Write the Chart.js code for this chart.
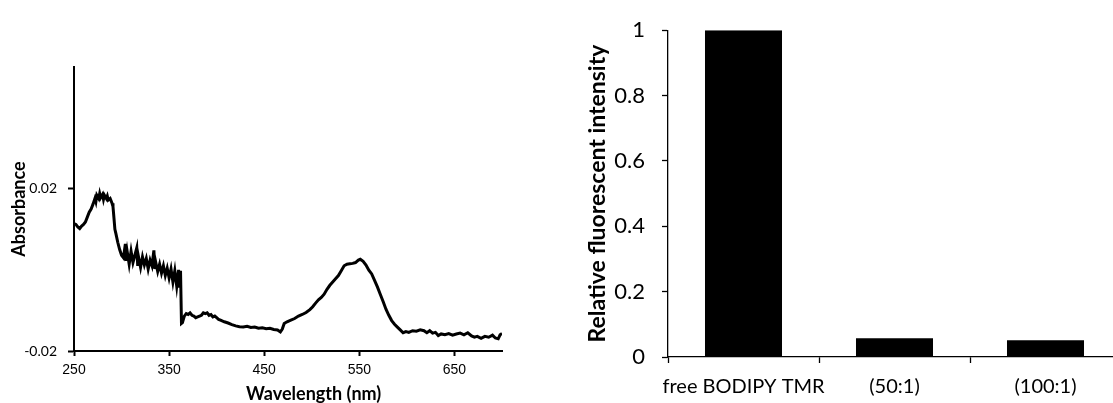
<!DOCTYPE html>
<html>
<head>
<meta charset="utf-8">
<script src="https://cdn.jsdelivr.net/npm/chart.js@4.4.1/dist/chart.umd.min.js"></script>
<style>
  body { margin: 0; background: #fff; }
  #wrap { position: relative; width: 1113px; height: 403px; background: #fff; overflow: hidden; }
  #left { position: absolute; left: 0; top: 0; width: 520px; height: 403px; }
  #right { position: absolute; left: 520px; top: 0; width: 593px; height: 403px; overflow: hidden; }
</style>
</head>
<body>
<div id="wrap">
  <div id="left"><canvas id="absChart" width="520" height="403"></canvas></div>
  <div id="right"><canvas id="barChart" width="602" height="403"></canvas></div>
</div>
<script>
// absorbance spectrum
var wavelength = [
  250, 252, 254, 256, 258, 260, 262, 264, 266, 268, 270, 272, 273, 274, 276, 277, 278, 280, 281, 282,
  284, 285, 286, 288, 290, 291, 292, 293, 294, 296, 298, 300, 302, 304, 305, 306, 308, 310, 312, 314,
  316, 317, 318, 320, 322, 324, 326, 328, 330, 332, 334, 335, 336, 338, 340, 342, 344, 346, 348, 350,
  352, 354, 356, 358, 360, 361, 362, 363, 364, 366, 368, 370, 372, 374, 376, 378, 380, 382, 384, 386,
  388, 390, 392, 394, 396, 398, 400, 402, 404, 408, 412, 416, 420, 424, 428, 432, 436, 440, 444, 448,
  452, 456, 460, 464, 467, 469, 471, 474, 478, 482, 486, 490, 494, 498, 501, 504, 507, 510, 513, 516,
  519, 522, 525, 528, 531, 534, 537, 540, 543, 546, 549, 551, 554, 557, 560, 563, 566, 569, 572, 575,
  578, 581, 584, 587, 590, 593, 596, 599, 602, 606, 610, 614, 618, 621, 624, 627, 630, 633, 636, 640,
  644, 648, 652, 656, 660, 664, 668, 671, 674, 678, 682, 686, 690, 693, 696, 698, 700
];
var absorbance = [
  0.0114, 0.0112, 0.0106, 0.0102, 0.0108, 0.0112, 0.0118, 0.0130, 0.0142, 0.0150, 0.0162, 0.0176, 0.0168, 0.0184, 0.0176, 0.0188, 0.0178, 0.0186, 0.0174, 0.0184,
  0.0176, 0.0182, 0.0172, 0.0176, 0.0164, 0.0156, 0.0128, 0.0100, 0.0090, 0.0068, 0.0050, 0.0036, 0.0030, 0.0064, 0.0022, 0.0044, 0.0014, 0.0046, 0.0018, 0.0036,
  0.0054, 0.0010, 0.0030, 0.0006, 0.0032, 0.0012, 0.0028, 0.0002, 0.0024, 0.0010, 0.0048, 0.0002, 0.0018, -0.0004, 0.0014, -0.0008, 0.0010, -0.0014, 0.0004, -0.0020,
  0.0002, -0.0030, -0.0002, -0.0040, 0.0000, -0.0044, -0.0002, -0.0132, -0.0130, -0.0114, -0.0108, -0.0110, -0.0106, -0.0112, -0.0114, -0.0118, -0.0116, -0.0114, -0.0112, -0.0106,
  -0.0108, -0.0106, -0.0112, -0.0110, -0.0116, -0.0114, -0.0118, -0.0122, -0.0124, -0.0128, -0.0131, -0.0135, -0.0138, -0.0140, -0.0141, -0.0139, -0.0142, -0.0141, -0.0144, -0.0143,
  -0.0145, -0.0144, -0.0147, -0.0148, -0.0153, -0.0146, -0.0132, -0.0128, -0.0124, -0.0120, -0.0114, -0.0110, -0.0105, -0.0098, -0.0091, -0.0082, -0.0074, -0.0068, -0.0060, -0.0048,
  -0.0038, -0.0030, -0.0022, -0.0014, -0.0002, 0.0010, 0.0014, 0.0015, 0.0016, 0.0018, 0.0024, 0.0026, 0.0021, 0.0012, -0.0001, -0.0010, -0.0026, -0.0042, -0.0060, -0.0078,
  -0.0097, -0.0112, -0.0125, -0.0134, -0.0141, -0.0148, -0.0155, -0.0152, -0.0154, -0.0150, -0.0151, -0.0148, -0.0150, -0.0155, -0.0150, -0.0156, -0.0154, -0.0162, -0.0158, -0.0160,
  -0.0157, -0.0161, -0.0158, -0.0156, -0.0160, -0.0155, -0.0163, -0.0166, -0.0164, -0.0169, -0.0164, -0.0166, -0.0161, -0.0168, -0.0170, -0.0160, -0.0157
];
var wavelengthTicks = [250, 350, 450, 550, 650];
var absorbanceTicks = [-0.02, 0.02];

// fluorescence bars
var sampleLabels = ['free BODIPY TMR', '(50:1)', '(100:1)'];
var intensity = [1, 0.057, 0.051];

var spectrumPoints = [];
for (var i = 0; i < wavelength.length; i++) {
    spectrumPoints.push({x: wavelength[i], y: absorbance[i]});
}

// bottom title of the spectrum sits a bit right of centre
var wavelengthTitle = {
    id: 'wavelengthTitle',
    afterDraw: function (chart) {
        var a = chart.chartArea;
        var ctx = chart.ctx;
        ctx.save();
        ctx.fillStyle = '#000';
        ctx.font = 'bold 18px Lato';
        ctx.textAlign = 'center';
        ctx.textBaseline = 'middle';
        ctx.fillText('Wavelength (nm)', a.left + (a.right - a.left) * 0.56, a.bottom + 43);
        ctx.restore();
    }
};

new Chart(document.getElementById('absChart'), {
    type: 'line',
    data: {
        datasets: [{
            data: spectrumPoints,
            borderColor: '#000',
            borderWidth: 3,
            pointRadius: 0,
            tension: 0,
            fill: false
        }]
    },
    plugins: [wavelengthTitle],
    options: {
        responsive: false,
        animation: false,
        layout: { padding: { top: 67, right: 18, left: 0, bottom: 0 } },
        plugins: { legend: { display: false }, tooltip: { enabled: false } },
        scales: {
            x: {
                type: 'linear',
                min: 250,
                max: 700,
                afterBuildTicks: function (s) { s.ticks = wavelengthTicks.map(function (v) { return {value: v}; }); },
                afterFit: function (s) { s.height = 52; },
                grid: { drawOnChartArea: false, tickLength: 5, tickColor: '#000', tickWidth: 2 },
                border: { color: '#000', width: 2 },
                ticks: { color: '#000', font: { family: 'Liberation Sans', size: 14 }, padding: 6, maxRotation: 0 }
            },
            y: {
                min: -0.02,
                max: 0.05,
                afterBuildTicks: function (s) { s.ticks = absorbanceTicks.map(function (v) { return {value: v}; }); },
                afterFit: function (s) { s.width = 74; },
                grid: { drawOnChartArea: false, tickLength: 6, tickColor: '#000', tickWidth: 2 },
                border: { color: '#000', width: 2 },
                ticks: {
                    color: '#000',
                    font: { family: 'Lato', size: 14 },
                    padding: 11,
                    callback: function (v) { return v.toFixed(2); }
                },
                title: {
                    display: true,
                    text: 'Absorbance',
                    color: '#000',
                    font: { family: 'Lato', size: 18, weight: 'bold' },
                    padding: { top: 8, bottom: 0 }
                }
            }
        }
    }
});

new Chart(document.getElementById('barChart'), {
    type: 'bar',
    data: {
        labels: sampleLabels,
        datasets: [{
            data: intensity,
            backgroundColor: '#000',
            borderWidth: 0,
            barPercentage: 0.51,
            categoryPercentage: 1
        }]
    },
    options: {
        responsive: false,
        animation: false,
        layout: { padding: { top: 23, right: 1, left: 0, bottom: 0 } },
        plugins: { legend: { display: false }, tooltip: { enabled: false } },
        scales: {
            x: {
                afterFit: function (s) { s.height = 46; },
                grid: { drawOnChartArea: false, offset: true, tickLength: 6, tickColor: '#000', tickWidth: 1.3 },
                border: { color: '#000', width: 1.3 },
                ticks: { color: '#000', font: { family: 'Lato', size: 20 }, padding: 12, maxRotation: 0, autoSkip: false }
            },
            y: {
                min: 0,
                max: 1,
                afterFit: function (s) { s.width = 148; },
                grid: { drawOnChartArea: false, tickLength: 6, tickColor: '#000', tickWidth: 1.3 },
                border: { color: '#000', width: 1.3 },
                ticks: {
                    color: '#000',
                    stepSize: 0.2,
                    font: { family: 'Lato', size: 22 },
                    padding: 17,
                    callback: function (v) { return String(Math.round(v * 10) / 10); }
                },
                title: {
                    display: true,
                    text: 'Relative fluorescent intensity',
                    color: '#000',
                    font: { family: 'Lato', size: 23, weight: 'bold' },
                    padding: { top: 64, bottom: 0 }
                }
            }
        }
    }
});
</script>
</body>
</html>
